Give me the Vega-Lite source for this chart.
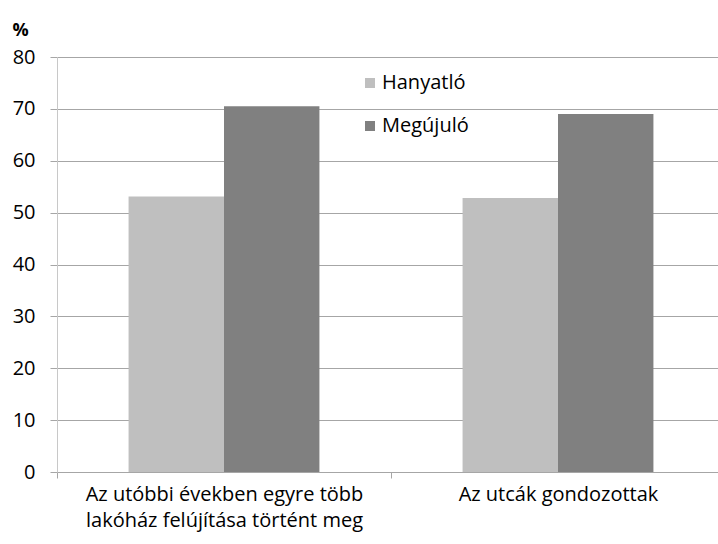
{
  "$schema": "https://vega.github.io/schema/vega-lite/v6.json",
  "autosize": "none",
  "width": 668,
  "height": 415,
  "padding": {"left": 57, "top": 57, "right": 0, "bottom": 72},
  "background": "white",
  "data": {
    "values": [
      {"kategoria": "Az utóbbi években egyre több lakóház felújítása történt meg", "csoport": "Hanyatló", "ertek": 53.1},
      {"kategoria": "Az utóbbi években egyre több lakóház felújítása történt meg", "csoport": "Megújuló", "ertek": 70.5},
      {"kategoria": "Az utcák gondozottak", "csoport": "Hanyatló", "ertek": 52.8},
      {"kategoria": "Az utcák gondozottak", "csoport": "Megújuló", "ertek": 69.0}
    ]
  },
  "config": {
    "font": "Open Sans",
    "view": {"stroke": null}
  },
  "mark": {"type": "bar"},
  "encoding": {
    "x": {
      "field": "kategoria",
      "type": "nominal",
      "sort": null,
      "scale": {"paddingInner": 0, "paddingOuter": 0},
      "axis": {
        "title": null,
        "labelAngle": 0,
        "labelLimit": 0,
        "tickBand": "extent",
        "tickSize": 6,
        "tickColor": "#A6A6A6",
        "domainColor": "#A6A6A6",
        "labelFontSize": 20,
        "labelColor": "#000000",
        "labelPadding": 6,
        "labelLineHeight": 26,
        "labelBaseline": "top",
        "labelExpr": "datum.value == 'Az utóbbi években egyre több lakóház felújítása történt meg' ? ['Az utóbbi években egyre több', 'lakóház felújítása történt meg'] : datum.label"
      }
    },
    "xOffset": {
      "field": "csoport",
      "type": "nominal",
      "scale": {"paddingInner": 0, "paddingOuter": 0.75}
    },
    "y": {
      "field": "ertek",
      "type": "quantitative",
      "scale": {"domain": [0, 80]},
      "axis": {
        "title": "%",
        "titleAngle": 0,
        "titleAlign": "left",
        "titleBaseline": "middle",
        "titleX": -45,
        "titleY": -27,
        "titleFontSize": 18,
        "titleFontWeight": "bold",
        "titleColor": "#000000",
        "values": [0, 10, 20, 30, 40, 50, 60, 70, 80],
        "grid": true,
        "gridColor": "#A6A6A6",
        "tickColor": "#A6A6A6",
        "tickSize": 7,
        "domainColor": "#C8C8C8",
        "labelFontSize": 20,
        "labelColor": "#000000",
        "labelPadding": 15
      }
    },
    "color": {
      "field": "csoport",
      "type": "nominal",
      "scale": {"domain": ["Hanyatló", "Megújuló"], "range": ["#BFBFBF", "#808080"]},
      "legend": {
        "title": null,
        "orient": "none",
        "legendX": 303,
        "legendY": 16,
        "symbolType": "square",
        "symbolSize": 100,
        "symbolStrokeWidth": 0,
        "labelFontSize": 20,
        "labelColor": "#000000",
        "rowPadding": 23,
        "labelOffset": 2
      }
    }
  }
}
